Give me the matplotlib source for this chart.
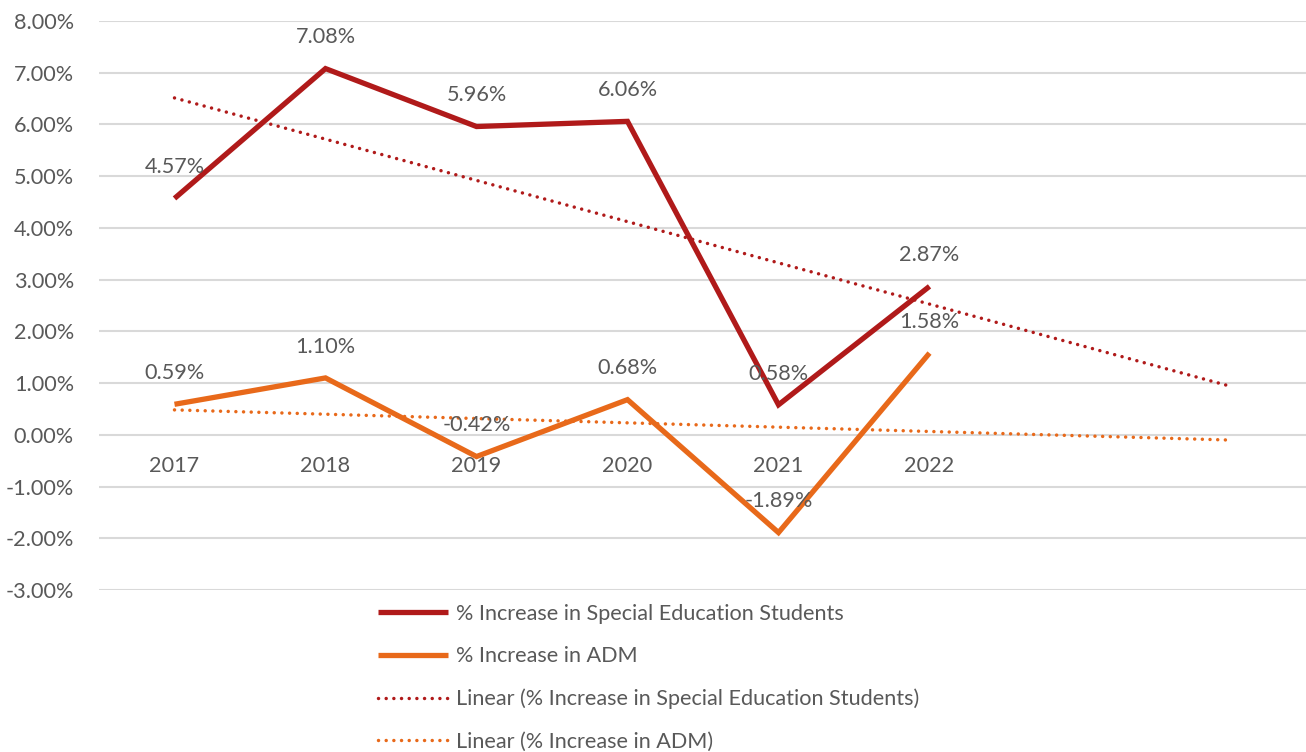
import numpy as np
import matplotlib
matplotlib.use("Agg")
import matplotlib.pyplot as plt
from matplotlib.ticker import PercentFormatter

years = ["2017", "2018", "2019", "2020", "2021", "2022"]
special_ed = [4.57, 7.08, 5.96, 6.06, 0.58, 2.87]
adm = [0.59, 1.10, -0.42, 0.68, -1.89, 1.58]
forecast_periods = 2

RED = "#B01A1A"
ORANGE = "#E8691A"
TXT = "#595959"
GRID = "#D9D9D9"

plt.rcParams['font.family'] = ['Lato', 'DejaVu Sans']
plt.rcParams['axes.unicode_minus'] = False
FS = 15.6

fig = plt.figure(figsize=(13.06, 7.52), dpi=100)
ax = fig.add_axes([99/1306, 1 - 590/752, 1208/1306, (590 - 21)/752])

x = np.arange(len(years))
ax.plot(x, special_ed, color=RED, lw=3.8, solid_joinstyle='miter', solid_capstyle='butt',
        label="% Increase in Special Education Students", zorder=4)
ax.plot(x, adm, color=ORANGE, lw=3.8, solid_joinstyle='miter', solid_capstyle='butt',
        label="% Increase in ADM", zorder=4)

xt = np.arange(len(years) + forecast_periods)
for vals, col, name in [(special_ed, RED, "Linear (% Increase in Special Education Students)"),
                        (adm, ORANGE, "Linear (% Increase in ADM)")]:
    m, b = np.polyfit(x, vals, 1)
    ax.plot(xt, m * xt + b, color=col, lw=2.5, linestyle=(0, (0.01, 2.2)),
            dash_capstyle='round', label=name, zorder=3)

for vals in (special_ed, adm):
    for xi, v in zip(x, vals):
        ax.annotate(f"{v:.2f}%", (xi, v), xytext=(0, 22.5), textcoords='offset points',
                    ha='center', va='center', fontsize=FS, color=TXT, zorder=5)

ax.set_xlim(-0.5, len(years) + forecast_periods - 0.5)
ax.set_ylim(-3, 8)
ax.set_yticks(np.arange(-3, 9, 1))
ax.yaxis.set_major_formatter(PercentFormatter(decimals=2))
ax.grid(axis='y', color=GRID, lw=1.5)
ax.set_axisbelow(True)
for s in ['top', 'right', 'left']:
    ax.spines[s].set_visible(False)
ax.spines['bottom'].set_position(('data', 0))
ax.spines['bottom'].set_visible(False)
ax.set_xticks(x)
ax.set_xticklabels(years)
ax.tick_params(axis='x', length=0, pad=15, labelsize=FS, labelcolor=TXT)
ax.tick_params(axis='y', length=0, pad=18, labelsize=FS, labelcolor=TXT)

leg = fig.legend(loc='upper left', bbox_to_anchor=(378/1306, 1 - 604/752), frameon=False,
                 fontsize=FS, labelcolor=TXT, handlelength=3.25, handletextpad=0.33,
                 labelspacing=1.03, borderaxespad=0, borderpad=0)

fig.savefig("out.png", dpi=100)
